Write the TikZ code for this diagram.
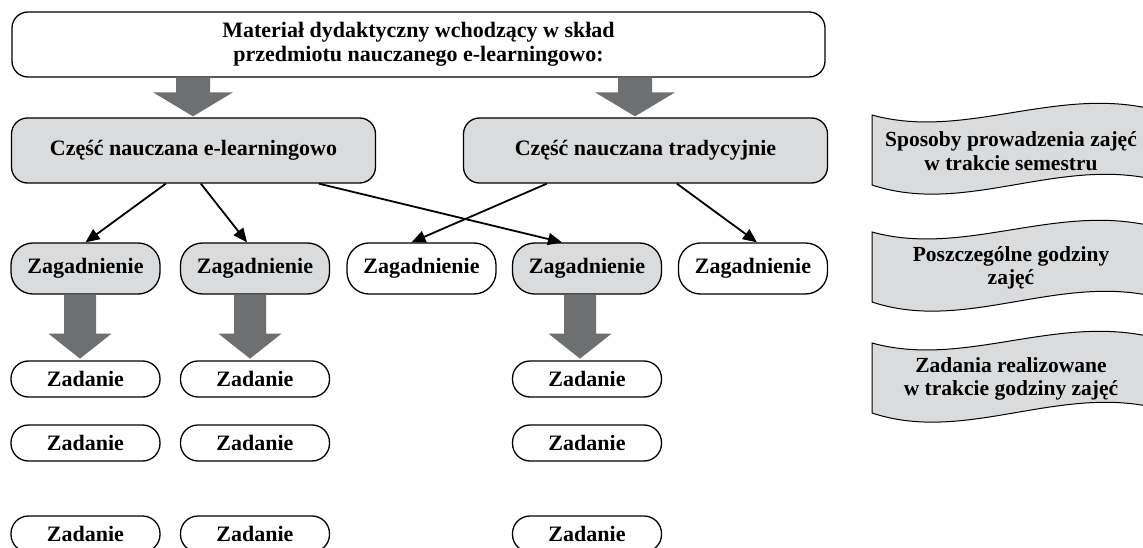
\documentclass[tikz,border=0pt]{standalone}
\usepackage{fontspec}
\setmainfont{Liberation Serif}
\usetikzlibrary{calc,arrows.meta}
\definecolor{boxgray}{RGB}{218,219,221}
\definecolor{arrgray}{RGB}{110,111,113}
\tikzset{
  txt/.style={font=\fontsize{22}{23.5}\selectfont\bfseries,align=center,inner sep=0pt},
  bantxt/.style={font=\fontsize{21.5}{23.5}\selectfont\bfseries,align=center,inner sep=0pt},
  box/.style={txt,draw=black,line width=1.3pt,rounded corners=#1},
  topbox/.style={box=16pt,fill=white,minimum width=813pt,minimum height=65pt},
  partbox/.style={box=16pt,fill=boxgray,minimum width=364pt,minimum height=65pt},
  zagbox/.style={box=22pt,minimum width=149pt,minimum height=51pt},
  zadbox/.style={box=17.5pt,fill=white,minimum width=149pt,minimum height=36pt},
  thinarrow/.style={line width=1.8pt,-{Triangle[length=14pt,width=12pt]}},
  tapeshape/.style={fill=boxgray,draw=black,line width=1pt},
  fattop/.pic={\fill[arrgray] (-17,0) -- (17,0) -- (17,15) -- (40,15) -- (0,39) -- (-40,15) -- (-17,15) -- cycle;},
  fatlow/.pic={\fill[arrgray] (-16,0) -- (16,0) -- (16,39) -- (31.5,39) -- (0,64) -- (-31.5,39) -- (-16,39) -- cycle;}
}
\newcommand\tapebanner[3]{%
  \path[tapeshape] (872,115+#1) .. controls (962,140+#1) and (1052,88+#1) .. (1147,108+#1)
    -- (1147,178+#1) .. controls (1052,160+#1) and (962,215+#1) .. (872,185+#1) -- cycle;
  \node[bantxt] (#2) at (1011,151+#1) {#3};
}
\begin{document}
\begin{tikzpicture}[x=1pt,y=-1pt]
\useasboundingbox (0,0) rectangle (1143,548);
\clip (0,0) rectangle (1143,548);
\fill[white] (0,0) rectangle (1143,548);

% top
\node[topbox] (top) at (418.5,44.5) {Materiał dydaktyczny wchodzący w skład\\przedmiotu nauczanego e-learningowo:};
\node[partbox] (cele) at (193.5,150.5) {Część nauczana e-learningowo};
\node[partbox] (celt) at (645.5,150.5) {Część nauczana tradycyjnie};

\pic at ($(cele.north)+(-0.5,-40)$) {fattop};
\pic at ($(celt.north)+(-10.5,-40)$) {fattop};

% zagadnienia
\node[zagbox,fill=boxgray] (z1) at (85.5,268.5) {Zagadnienie};
\node[zagbox,fill=boxgray] (z2) at (255,268.5) {Zagadnienie};
\node[zagbox,fill=white] (z3) at (421.5,268.5) {Zagadnienie};
\node[zagbox,fill=boxgray] (z4) at (587,268.5) {Zagadnienie};
\node[zagbox,fill=white] (z5) at (753,268.5) {Zagadnienie};

\draw[thinarrow] ($(cele.south west)+(155,0)$) -- (z1.north);
\draw[thinarrow] ($(cele.south west)+(190,0)$) -- ($(z2.north)+(-8,0)$);
\draw[thinarrow] ($(cele.south west)+(308,0)$) -- ($(z4.north)+(-25,0)$);
\draw[thinarrow] ($(celt.south west)+(84,0)$) -- ($(z3.north)+(-10,0)$);
\draw[thinarrow] ($(celt.south west)+(214,0)$) -- ($(z5.north)+(4,0)$);

\pic at ($(z1.south)+(-5.5,0)$) {fatlow};
\pic at ($(z2.south)+(-5,0)$) {fatlow};
\pic at ($(z4.south)+(-7,0)$) {fatlow};

% zadania
\node[zadbox] (a11) at (85.5,379) {Zadanie};
\node[zadbox] (a12) at (85.5,443) {Zadanie};
\node[zadbox] (a13) at (85.5,534) {Zadanie};
\node[zadbox] (a21) at (255,379) {Zadanie};
\node[zadbox] (a22) at (255,443) {Zadanie};
\node[zadbox] (a23) at (255,534) {Zadanie};
\node[zadbox] (a41) at (587,379) {Zadanie};
\node[zadbox] (a42) at (587,443) {Zadanie};
\node[zadbox] (a43) at (587,534) {Zadanie};

% banners
\tapebanner{0}{s1}{Sposoby prowadzenia zajęć\\w trakcie semestru}
\tapebanner{117}{s2}{Poszczególne godziny\\zajęć}
\tapebanner{228}{s3}{Zadania realizowane\\w trakcie godziny zajęć}
\end{tikzpicture}
\end{document}
